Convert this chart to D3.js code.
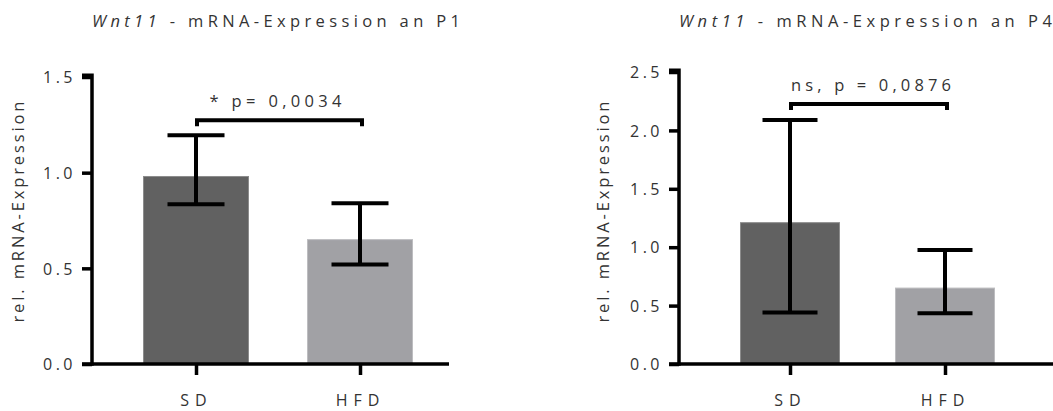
<!DOCTYPE html>
<html lang="de">
<head>
  <meta charset="UTF-8">
  <title>Wnt11 mRNA-Expression</title>
  <style>
    * { margin: 0; padding: 0; }
    body { background: #fff; font-family: 'Open Sans', sans-serif; }
    svg text { fill: #333; font-family: 'Open Sans', sans-serif; }
    .axis path, .axis line { stroke: #000; stroke-width: 3.5; }
    .tick-label { font-size: 16px; letter-spacing: 3.5px; }
    .cat-label { font-size: 16px; letter-spacing: 6px; }
  </style>
  <script src="https://cdn.jsdelivr.net/npm/d3@7/dist/d3.min.js"></script>
</head>
<body>
  <svg id="chart" width="1053" height="411"></svg>
  <script>
    // values
    const groups = ['SD', 'HFD'];
    const p1Means = [0.98, 0.65];
    const p1Upper = [1.195, 0.84];
    const p1Lower = [0.835, 0.52];
    const p4Means = [1.21, 0.65];
    const p4Upper = [2.09, 0.975];
    const p4Lower = [0.44, 0.435];
    const p1Ticks = [0, 0.5, 1.0, 1.5];
    const p4Ticks = [0, 0.5, 1.0, 1.5, 2.0, 2.5];
    const barColors = ['#616161', '#a1a1a5'];

    const panels = [
      { title: 'P1', means: p1Means, upper: p1Upper, lower: p1Lower, ticks: p1Ticks, yMax: 1.5,
        axisX: 92, xEnd: 449, yTop: 77, centers: [196, 360], barW: 105, capW: 57,
        sig: '* p= 0,0034', sigW: 132, sigY: 1.274, labelX: 18, titleW: 368 },
      { title: 'P4', means: p4Means, upper: p4Upper, lower: p4Lower, ticks: p4Ticks, yMax: 2.5,
        axisX: 679, xEnd: 1053, yTop: 72, centers: [790, 945], barW: 99, capW: 55,
        sig: 'ns, p = 0,0876', sigW: 160, sigY: 2.227, labelX: 603, titleW: 373 }
    ];

    const svg = d3.select('#chart');
    const y0 = 364;

    panels.forEach(p => {
      const g = svg.append('g');
      const y = d3.scaleLinear().domain([0, p.yMax]).range([y0, p.yTop]);
      const x = d3.scalePoint().domain(groups).range(p.centers);

      // title
      const title = g.append('text')
        .attr('x', p.axisX).attr('y', 27)
        .attr('font-size', 16.5)
        .attr('textLength', p.titleW).attr('lengthAdjust', 'spacing');
      title.append('tspan').attr('font-style', 'italic').text('Wnt11');
      title.append('tspan').text(' - mRNA-Expression an ' + p.title);

      // bars
      g.selectAll('rect.bar')
        .data(p.means)
        .join('rect')
        .attr('class', 'bar')
        .attr('x', (d, i) => x(groups[i]) - p.barW / 2)
        .attr('width', p.barW)
        .attr('y', d => y(d))
        .attr('height', d => y0 - y(d))
        .attr('fill', (d, i) => barColors[i])
        .attr('stroke', (d, i) => i === 0 ? '#8c8c8c' : '#bdbdc0')
        .attr('stroke-width', 1);

      // error bars
      const err = g.append('g').attr('stroke', '#000').attr('stroke-width', 4);
      groups.forEach((grp, i) => {
        const cx = x(grp);
        err.append('line').attr('x1', cx).attr('x2', cx)
          .attr('y1', y(p.lower[i])).attr('y2', y(p.upper[i]));
        [p.lower[i], p.upper[i]].forEach(v => {
          err.append('line')
            .attr('x1', cx - p.capW / 2).attr('x2', cx + p.capW / 2)
            .attr('y1', y(v)).attr('y2', y(v));
        });
      });

      // y axis
      const yAxis = g.append('g').attr('class', 'axis')
        .attr('transform', `translate(${p.axisX},0)`)
        .call(d3.axisLeft(y).tickValues(p.ticks).tickSize(10).tickSizeOuter(0).tickFormat(d3.format('.1f')));
      yAxis.selectAll('path').attr('d', `M0,${y0 + 1.75}V${p.yTop - 1.75}H-10`);
      yAxis.selectAll('text').attr('class', 'tick-label').attr('x', -16).attr('dx', 0).attr('dy', '0.36em');

      // x axis
      const xAxis = g.append('g').attr('class', 'axis')
        .attr('transform', `translate(0,${y0})`)
        .call(d3.axisBottom(x).tickSize(11).tickSizeOuter(0));
      xAxis.selectAll('path').attr('d', `M${p.axisX - 10},0H${p.xEnd}`);
      xAxis.selectAll('text').attr('class', 'cat-label').attr('y', 42).attr('dy', 0).attr('dx', 0);

      // y label
      g.append('text')
        .attr('transform', `translate(${p.labelX + 6},212) rotate(-90)`)
        .attr('text-anchor', 'middle')
        .attr('font-size', 16.5)
        .attr('textLength', 221).attr('lengthAdjust', 'spacing')
        .text('rel. mRNA-Expression');

      // significance bracket
      const bx0 = x(groups[0]) + 1, bx1 = x(groups[1]) + 2;
      const by = y(p.sigY);
      g.append('path')
        .attr('d', `M${bx0},${by + 6}V${by}H${bx1}V${by + 6}`)
        .attr('fill', 'none').attr('stroke', '#000').attr('stroke-width', 4);
      g.append('text')
        .attr('x', (bx0 + bx1) / 2 - p.sigW / 2 + (p.title === 'P1' ? -4 : 2))
        .attr('y', by - 13)
        .attr('font-size', 16.5)
        .attr('textLength', p.sigW).attr('lengthAdjust', 'spacing')
        .text(p.sig);
    });
  </script>
</body>
</html>
